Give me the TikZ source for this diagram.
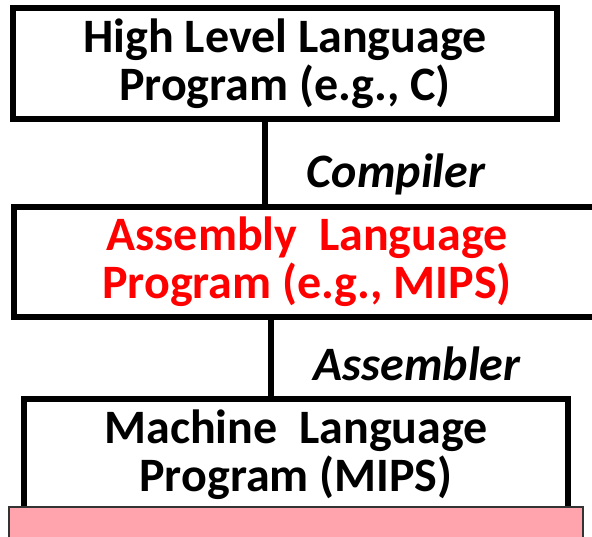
\documentclass[tikz,border=0pt]{standalone}
\usepackage{fontspec}
\setmainfont{Carlito}
\usepackage{xcolor}
\usepackage{tikz}
\usetikzlibrary{positioning,calc}
\definecolor{barpink}{RGB}{255,163,172}
\definecolor{asmred}{RGB}{255,0,0}
\tikzset{
    levelbox/.style={draw, line width=6pt, fill=white, align=center, inner sep=0pt,
        font=\bfseries\fontsize{48}{48}\selectfont},
    toollabel/.style={anchor=base, font=\bfseries\itshape\fontsize{48}{48}\selectfont}
}
\begin{document}
\begin{tikzpicture}[x=1pt, y=-1pt]
    \useasboundingbox (0,0) rectangle (592,536);
    \clip (0,0) rectangle (592,536);

    % High level
    \node[levelbox, minimum width=544pt, minimum height=111pt] (high) at (285,63.5)
        {High Level Language\\Program (e.g., C)};

    % Assembly
    \node[levelbox, minimum width=586pt, minimum height=110pt, text=asmred] (asm) at (307,262)
        {Assembly\ \ Language\\Program (e.g., MIPS)};

    % Machine
    \node[levelbox, minimum width=544pt, minimum height=112pt] (mach) at (296,455)
        {Machine\ \ Language\\Program (MIPS)};
    \draw[draw=black!80, line width=2pt, fill=barpink] (9,507) rectangle (583,560);

    % Translation steps
    \draw[line width=6pt] (high.south -| 265,0) -- (asm.north -| 265,0);
    \node[toollabel] (comp) at (396,187) {Compiler};
    \draw[line width=6pt] (asm.south -| 271,0) -- (mach.north -| 271,0);
    \node[toollabel] (assem) at (417,380) {Assembler};
\end{tikzpicture}
\end{document}
